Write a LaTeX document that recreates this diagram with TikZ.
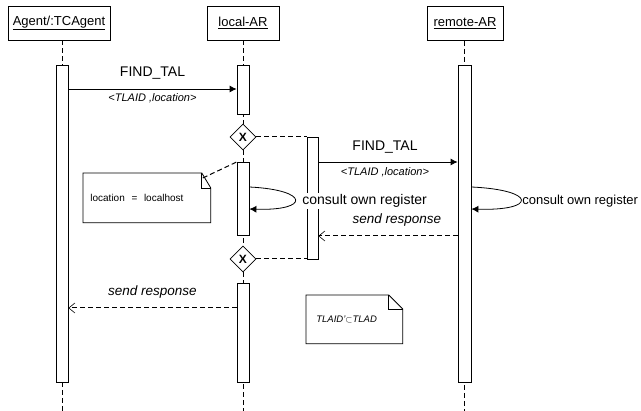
\documentclass[tikz,border=0pt]{standalone}
\usepackage{fontspec}
\setmainfont{Liberation Sans}
\usetikzlibrary{shapes.geometric,arrows.meta}
\tikzset{
  head/.style={draw,minimum height=34,inner sep=0pt,font=\fontsize{13}{15}\selectfont},
  actbar/.style={draw,fill=white,minimum width=12,inner sep=0pt,anchor=north},
  choice/.style={draw,diamond,fill=white,minimum width=26,minimum height=26,inner sep=0pt,font=\bfseries\fontsize{12}{12}\selectfont},
  life/.style={line width=1pt,dash pattern=on 5pt off 3pt},
  msg/.style={-{Latex[length=7pt,width=7pt]}},
  reply/.style={life,-{Straight Barb[length=6pt,width=10pt,line width=0.6pt]}},
  lbl/.style={font=\fontsize{14}{16}\selectfont},
  resp/.style={font=\itshape\fontsize{13.5}{15}\selectfont},
  sub/.style={font=\itshape\fontsize{11}{13}\selectfont},
  notebox/.style={anchor=north west,inner sep=0pt,align=left}
}
\begin{document}
\begin{tikzpicture}[x=1pt,y=-1pt,line width=0.8pt]
\useasboundingbox (0,0) rectangle (641,411);
\clip (0,0) rectangle (641,411);

\node[head,minimum width=102] (agent) at (59,23) {\underline{Agent/:TCAgent}};
\node[head,minimum width=72] (local) at (243,23) {\underline{local-AR}};
\node[head,minimum width=76] (remote) at (465,23.5) {\underline{remote-AR}};

\node[choice] (d1) at (243,137) {X};
\node[choice] (d2) at (243,259) {X};

\draw[life] (agent.south -| 62,0) -- (62,65) (62,382) -- (62,411);
\draw[life] (local.south) -- (d1.north) (d1.south) -- (d2.north) (d2.south) -- (243,411);
\draw[life] (remote.south -| 464.5,0) -- (464.5,411);

\node[actbar,minimum height=317] (agentbar) at (62,65) {};
\node[actbar,minimum height=49] (l1) at (243,65) {};
\node[actbar,minimum height=73] (l2) at (243,162) {};
\node[actbar,minimum height=99] (l3) at (243,283) {};
\node[actbar,minimum width=11,minimum height=122] (par) at (312.5,137) {};
\node[actbar,minimum width=13,minimum height=317] (rbar) at (464.5,65) {};

\draw[life] (d1.east) -- (d1.east -| par.west);
\draw[life] (d2.east) -- (d2.east -| par.west);

\draw[msg] (agentbar.east |- 0,89) -- (l1.west |- 0,89)
  node[midway,yshift=16,lbl] (find1) {FIND\_TAL}
  node[midway,yshift=-9,sub] (args1) {<TLAID ,location>};
\draw[msg] (par.east |- 0,162) -- (rbar.west |- 0,162)
  node[midway,yshift=15,xshift=-3,lbl] (find2) {FIND\_TAL}
  node[midway,yshift=-10,xshift=-3,sub] (args2) {<TLAID ,location>};

\draw[msg] (l2.east |- 0,187) .. controls (310,190) and (310,211) .. (l2.east |- 0,209);
\node[lbl,fill=white,anchor=west,inner sep=1pt] (consult1) at (301,201) {consult own register};
\draw[msg] (rbar.east |- 0,187) .. controls (537,190) and (537,211) .. (rbar.east |- 0,209);
\node[lbl,font=\fontsize{13}{15}\selectfont,anchor=west,inner sep=1pt] (consult2) at (521,201) {consult own register};

\draw[reply] (rbar.west |- 0,236) -- (par.east |- 0,236)
  node[midway,yshift=16,xshift=9,resp] (resp1) {send response};
\draw[reply] (l3.west |- 0,308) -- (agentbar.east |- 0,308)
  node[midway,yshift=16,resp] (resp2) {send response};

\node[notebox,minimum width=127,minimum height=49,inner xsep=7pt,text width=113,font=\fontsize{10}{12}\selectfont] (note1) at (83,173) {location~~=~~localhost};
\draw (note1.south west) -- (note1.north west) -- ([xshift=-9]note1.north east) -- ([yshift=-15]note1.north east) -- (note1.south east) -- cycle;
\draw ([xshift=-9]note1.north east) -- ([xshift=-9,yshift=-15]note1.north east) -- ([yshift=-15]note1.north east);
\draw[life] ([xshift=-8,yshift=-5]note1.north east) -- (l2.north west);

\node[notebox,minimum width=96,minimum height=48,inner xsep=10pt,text width=76,font=\itshape\fontsize{9.5}{11}\selectfont] (note2) at (306,295) {TLAID'$\subset$TLAD};
\draw (note2.south west) -- (note2.north west) -- ([xshift=-14]note2.north east) -- ([yshift=-14]note2.north east) -- (note2.south east) -- cycle;
\draw ([xshift=-14]note2.north east) -- ([xshift=-14,yshift=-14]note2.north east) -- ([yshift=-14]note2.north east);
\end{tikzpicture}
\end{document}
